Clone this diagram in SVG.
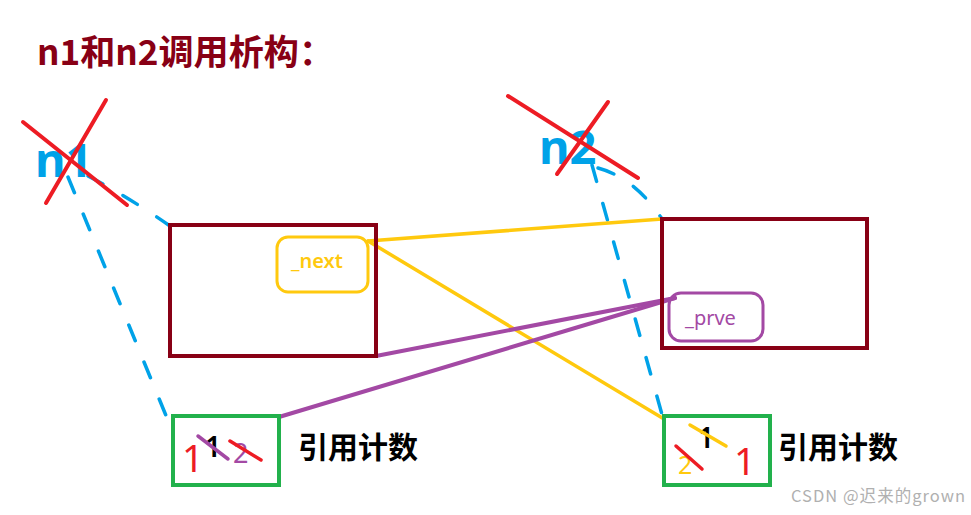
<svg xmlns="http://www.w3.org/2000/svg" width="971" height="515" viewBox="0 0 971 515">
<style>
.cjk{font-family:"Noto Sans CJK SC","Noto Sans",sans-serif;font-weight:bold}
.lat{font-family:"Noto Sans","Liberation Sans",sans-serif}
.node{fill:none;stroke:#880015;stroke-width:4}
.cnt{fill:none;stroke:#22B14C;stroke-width:4}
.dash{fill:none;stroke:#00A2E8;stroke-width:3.5;stroke-dasharray:17 23;stroke-linecap:round}
.x{stroke:#ED1C24;stroke-width:4;stroke-linecap:round}
</style>
<rect width="971" height="515" fill="#fff"/>
<text class="cjk" x="37" y="65" font-size="35" fill="#880015" textLength="297" lengthAdjust="spacingAndGlyphs">n1和n2调用析构：</text>

<g id="connectors">
  <path class="dash" d="M88,176 Q130,198 170,226"/>
  <path class="dash" d="M68,177 L167,418"/>
  <path class="dash" d="M598,168 Q635,178 662,219"/>
  <path class="dash" d="M592,165 L663,418"/>
  <line x1="368" y1="241" x2="662" y2="219" stroke="#FFC90E" stroke-width="3.5" stroke-linecap="round"/>
  <line x1="368" y1="241" x2="664" y2="419" stroke="#FFC90E" stroke-width="3.5" stroke-linecap="round"/>
  <line x1="376" y1="356" x2="675" y2="298" stroke="#A349A4" stroke-width="4" stroke-linecap="round"/>
  <line x1="279" y1="417" x2="675" y2="298" stroke="#A349A4" stroke-width="4" stroke-linecap="round"/>
</g>

<g id="n1">
  <text class="lat" x="35" y="177" font-size="47" font-weight="bold" fill="#00A2E8">n1</text>
  <line class="x" x1="23" y1="122" x2="127" y2="205"/>
  <line class="x" x1="106" y1="100" x2="46" y2="203"/>
</g>

<g id="n2">
  <text class="lat" x="539" y="164" font-size="47" font-weight="bold" fill="#00A2E8">n2</text>
  <line class="x" x1="508" y1="96" x2="638" y2="178"/>
  <line class="x" x1="608" y1="102" x2="557" y2="174"/>
</g>

<g id="node1">
  <rect class="node" x="170" y="225" width="206" height="131"/>
  <rect x="277" y="237" width="91" height="55" rx="11" fill="none" stroke="#FFC90E" stroke-width="3"/>
  <text class="lat" x="291" y="268" font-size="20" font-weight="600" fill="#FFC90E">_next</text>
</g>

<g id="node2">
  <rect class="node" x="662" y="219" width="205" height="129"/>
  <rect x="669" y="293" width="94" height="48" rx="12" fill="none" stroke="#A349A4" stroke-width="3"/>
  <text class="lat" x="685" y="325" font-size="20" fill="#A349A4">_prve</text>
</g>

<g id="count1">
  <rect class="cnt" x="173" y="416" width="106" height="69"/>
  <text class="lat" x="182" y="472" font-size="38" fill="#ED1C24">1</text>
  <text class="lat" x="205" y="457" font-size="28" font-weight="600" fill="#000">1</text>
  <text class="lat" x="233" y="463" font-size="27" fill="#A349A4">2</text>
  <line x1="198" y1="436" x2="228" y2="459" stroke="#A349A4" stroke-width="3.5" stroke-linecap="round"/>
  <line x1="230" y1="441" x2="261" y2="460" stroke="#ED1C24" stroke-width="3.5" stroke-linecap="round"/>
  <text class="cjk" x="298" y="458" font-size="30" fill="#000">引用计数</text>
</g>

<g id="count2">
  <rect class="cnt" x="664" y="416" width="106" height="69"/>
  <text class="lat" x="698" y="448" font-size="28" font-weight="600" fill="#000">1</text>
  <line x1="690" y1="425" x2="726" y2="446" stroke="#FFC90E" stroke-width="3.5" stroke-linecap="round"/>
  <text class="lat" x="678" y="474" font-size="25" fill="#FFC90E">2</text>
  <line x1="676" y1="446" x2="702" y2="469" stroke="#ED1C24" stroke-width="3.5" stroke-linecap="round"/>
  <text class="lat" x="734" y="475" font-size="38" fill="#ED1C24">1</text>
  <text class="cjk" x="778" y="458" font-size="30" fill="#000">引用计数</text>
</g>

<text x="791" y="502" font-family="'Noto Sans CJK SC','Noto Sans',sans-serif" font-size="16.5" fill="#B0B0B0" textLength="174" lengthAdjust="spacing">CSDN @迟来的grown</text>
</svg>
